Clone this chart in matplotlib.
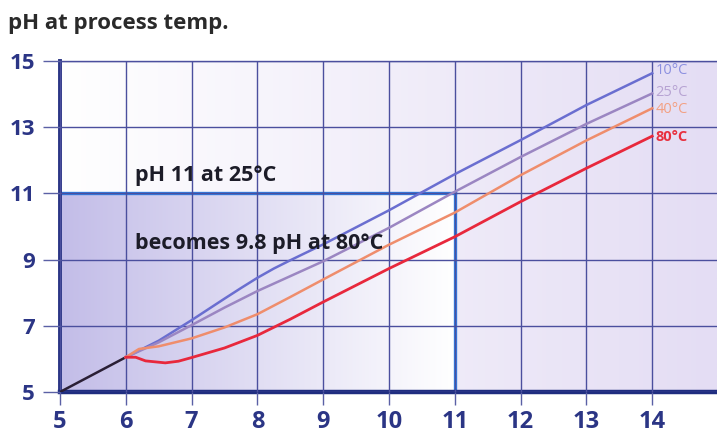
import matplotlib

matplotlib.use("Agg")
import matplotlib.pyplot as plt
import numpy as np
from matplotlib.colors import LinearSegmentedColormap

plt.rcParams["font.family"] = ["Open Sans", "DejaVu Sans"]

# shared start, 5 -> 6
start_x = [5, 6]
start_y = [5, 6.05]

# curves by temperature
x_10 = [6, 6.5, 7, 7.5, 7.75, 8, 8.25, 8.5, 9, 10, 11, 12, 13, 14]
y_10 = [6.05, 6.55, 7.17, 7.82, 8.14, 8.45, 8.73, 8.98, 9.46, 10.49, 11.58, 12.61, 13.67, 14.63]

x_25 = [6, 6.5, 7, 7.5, 8, 8.5, 9, 10, 11, 12, 13, 14]
y_25 = [6.05, 6.5, 7.02, 7.55, 8.05, 8.5, 8.95, 9.96, 11.05, 12.1, 13.1, 14.02]

x_40 = [6, 6.2, 6.5, 7, 7.5, 8, 8.5, 9, 10, 11, 12, 13, 14]
y_40 = [6.05, 6.3, 6.38, 6.62, 6.95, 7.35, 7.87, 8.4, 9.45, 10.42, 11.55, 12.6, 13.57]

x_80 = [6, 6.15, 6.3, 6.6, 6.8, 7, 7.5, 8, 8.5, 9, 10, 11, 12, 13, 14]
y_80 = [6.05, 6.05, 5.94, 5.88, 5.93, 6.04, 6.33, 6.71, 7.2, 7.72, 8.73, 9.69, 10.75, 11.76, 12.73]

curve_labels = ["10°C", "25°C", "40°C", "80°C"]
label_y = [14.7, 14.05, 13.52, 12.7]

x_ticks = [5, 6, 7, 8, 9, 10, 11, 12, 13, 14]
y_ticks = [5, 7, 9, 11, 13, 15]

ref_x = 11
ref_y = 11

NAVY = "#2b3585"
GRID = "#4b4f9e"

fig = plt.figure(figsize=(7.17, 4.4), dpi=100)
ax = fig.add_axes([60 / 717, 48 / 440, 657 / 717, 331 / 440])
x_max = 5 + 657 / 65.8

# background gradients
outer = LinearSegmentedColormap.from_list("outer", ["#ffffff", "#e4ddf4"])
inner = LinearSegmentedColormap.from_list("inner", ["#c3bde8", "#ffffff"])
grad = np.linspace(0, 1, 256).reshape(1, -1)
ax.imshow(grad, cmap=outer, extent=(5, x_max, 5, 15), aspect="auto", zorder=0)
ax.imshow(grad, cmap=inner, extent=(5, ref_x, 5, ref_y), aspect="auto", zorder=0)
ax.set_xlim(5, x_max)
ax.set_ylim(5, 15)

ax.set_xticks(x_ticks)
ax.set_yticks(y_ticks)
ax.grid(True, color=GRID, linewidth=1.0, zorder=1)
ax.set_axisbelow(False)

# reference lines
ax.plot([5, ref_x], [ref_y, ref_y], color="#2f7ce0", linewidth=2.4, zorder=2)
ax.plot([ref_x, ref_x], [5, ref_y], color="#2f7ce0", linewidth=2.4, zorder=2)

ax.plot(start_x, start_y, color="#2a1f35", linewidth=1.8, zorder=3)
ax.plot(x_10, y_10, color="#6a6ed0", linewidth=1.8, zorder=3)
ax.plot(x_25, y_25, color="#9b86c2", linewidth=1.8, zorder=3)
ax.plot(x_40, y_40, color="#ef8d6c", linewidth=1.8, zorder=3)
ax.plot(x_80, y_80, color="#e8283c", linewidth=2.0, zorder=3)

label_colors = ["#8c90e0", "#b7a3d3", "#f3a083", "#e8303f"]
label_weights = ["normal", "normal", "normal", "bold"]
for txt, yy, c, w in zip(curve_labels, label_y, label_colors, label_weights):
    ax.text(14.05, yy, txt, color=c, fontsize=10.5, fontweight=w, va="center", ha="left", zorder=4)

ax.text(6.14, 11.55, "pH 11 at 25°C", fontsize=15.5, fontweight="bold", color="#1c1c28",
        va="center", ha="left", zorder=4)
ax.text(6.14, 9.5, "becomes 9.8 pH at 80°C", fontsize=15.5, fontweight="bold", color="#1c1c28",
        va="center", ha="left", zorder=4)

fig.text(8 / 717, 1 - 24 / 440, "pH at process temp.", fontsize=16, fontweight="bold",
         color="#2a2a2a", va="center", ha="left")

ax.spines["right"].set_visible(False)
ax.spines["top"].set_color(GRID)
ax.spines["top"].set_linewidth(1.0)
ax.spines["left"].set_color(NAVY)
ax.spines["left"].set_linewidth(2.8)
ax.spines["bottom"].set_color("#1f2d80")
ax.spines["bottom"].set_linewidth(3.2)

ax.tick_params(axis="y", length=12, width=1.0, color="#5a60a5", pad=6,
               labelsize=16, labelcolor=NAVY)
ax.tick_params(axis="x", length=9, width=1.0, color="#5a60a5", pad=4,
               labelsize=17, labelcolor=NAVY)
for lab in ax.get_xticklabels() + ax.get_yticklabels():
    lab.set_fontweight("bold")

fig.savefig("out.png", dpi=100)
